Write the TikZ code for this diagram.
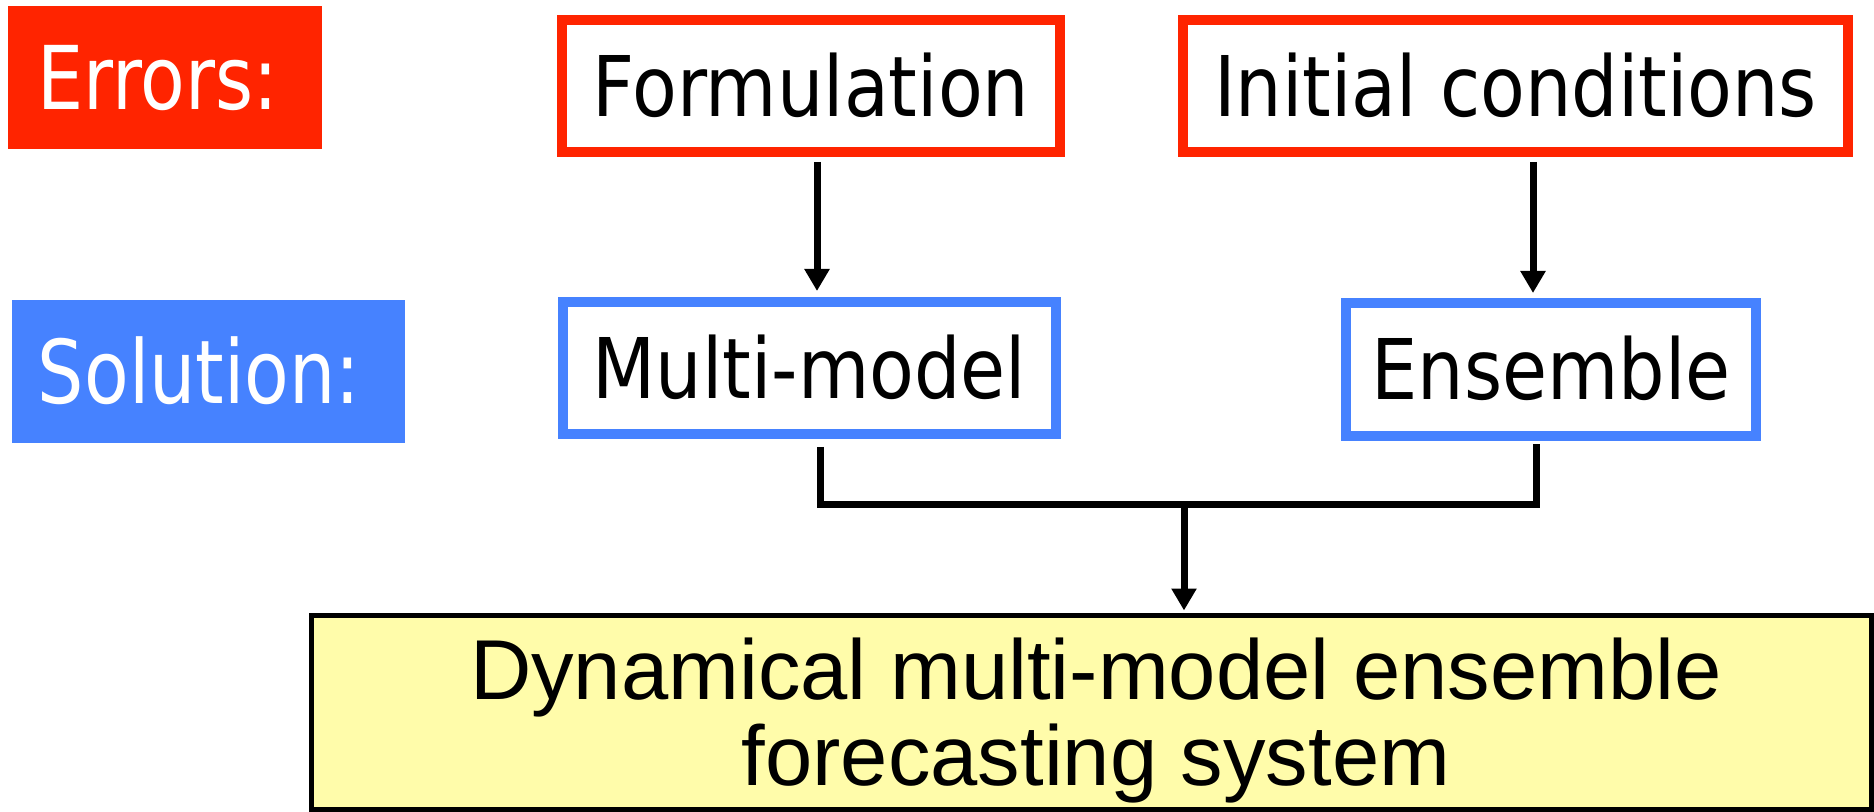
\documentclass[tikz,border=0pt]{standalone}
\usepackage{fontspec}
\usetikzlibrary{arrows.meta}
\newfontfamily\tahfont[FakeStretch=0.83]{DejaVu Sans}
\newfontfamily\boxfont[FakeStretch=0.875]{DejaVu Sans}
\newfontfamily\arialfont{Liberation Sans}
\definecolor{errred}{RGB}{255,36,0}
\definecolor{solblue}{RGB}{70,130,255}
\definecolor{sysyellow}{RGB}{255,252,170}
\begin{document}
\begin{tikzpicture}[x=0.5pt,y=-0.5pt,
  tahtext/.style={inner sep=0pt, font=\fontsize{44pt}{48pt}\selectfont\tahfont, text height=32pt, text depth=0pt},
  boxtext/.style={inner sep=0pt, font=\fontsize{41.85pt}{46pt}\selectfont\boxfont, text height=30.5pt, text depth=0pt},
  errlbl/.style={tahtext, text=white, fill=errred, minimum width=157pt, minimum height=71.5pt},
  sollbl/.style={tahtext, text=white, fill=solblue, minimum width=196.5pt, minimum height=71.5pt},
  errbox/.style={boxtext, draw=errred, line width=5pt, fill=white, minimum height=66pt},
  solbox/.style={boxtext, draw=solblue, line width=5pt, fill=white, minimum height=66pt},
  sysbox/.style={draw=black, line width=2.5pt, fill=sysyellow, inner sep=0pt, minimum width=780pt, minimum height=97pt},
  systext/.style={inner sep=0pt, align=center, font=\fontsize{42.5pt}{43pt}\selectfont\arialfont},
  conn/.style={draw=black, line width=3.5pt},
  arr/.style={conn, -{Triangle[length=11pt,width=12pt]}}
]
\useasboundingbox (0,0) rectangle (1874,812);

\node[errlbl] (errors) at (165,77.5) {\kern-7.5pt Errors:};
\node[sollbl] (solution) at (208.5,371.5) {\kern-9.5pt Solution:};

\node[errbox, minimum width=249pt] (form) at (811,86) {Formulation};
\node[errbox, minimum width=332.5pt] (init) at (1515.5,86) {Initial conditions};
\node[solbox, minimum width=246.5pt] (mm) at (809.5,368) {Multi-model};
\node[solbox, minimum width=205pt, minimum height=66.5pt] (ens) at (1551,369.5) {Ensemble};

\node[sysbox] (sys) at (1091.5,712.5) {};
\node[systext, anchor=north] (systxt) at (1096,638) {Dynamical multi-model ensemble\\forecasting system};

\coordinate (bar) at (1184,504);

\draw[arr, shorten <=2.5pt, shorten >=3pt] ([xshift=3pt]form.south) -- ([xshift=3pt]form.south |- mm.north);
\draw[arr, shorten <=2.5pt, shorten >=2.5pt] ([xshift=8.75pt]init.south) -- ([xshift=8.75pt]init.south |- ens.north);
\draw[conn, shorten <=4pt, shorten >=1.5pt] ([xshift=5.25pt]mm.south) |- (bar) -| ([xshift=-7.5pt]ens.south);
\draw[arr, shorten >=1.25pt] (bar) -- (bar |- sys.north);
\end{tikzpicture}
\end{document}
